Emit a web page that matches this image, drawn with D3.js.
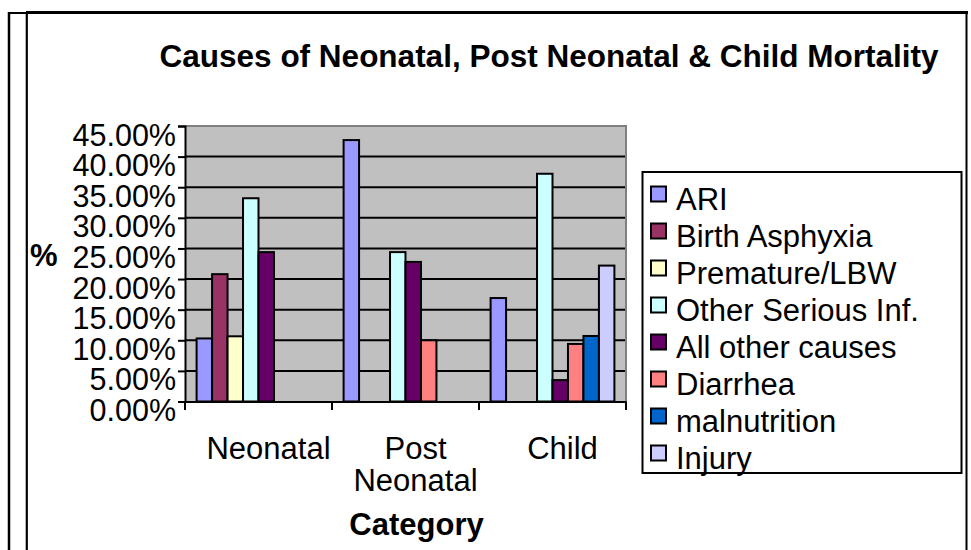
<!DOCTYPE html>
<html>
<head>
<meta charset="utf-8">
<script src="https://cdn.jsdelivr.net/npm/d3@7"></script>
<style>
  html, body { margin: 0; padding: 0; background: #fff; }
  svg { display: block; }
  text { font-family: "Liberation Sans", Arial, sans-serif; fill: #000; }
</style>
</head>
<body>
<svg id="chart" width="971" height="550"></svg>
<script>
// ---- data ----
const categories = ["Neonatal", "Post Neonatal", "Child"];
const seriesNames = ["ARI", "Birth Asphyxia", "Premature/LBW", "Other Serious Inf.",
  "All other causes", "Diarrhea", "malnutrition", "Injury"];
const seriesColors = ["#9999FF", "#993366", "#FFFFCC", "#CCFFFF",
  "#660066", "#FF8080", "#0066CC", "#CCCCFF"];
const ariValues        = [0.103, 0.427, 0.169];
const asphyxiaValues   = [0.208, null, null];
const prematureValues  = [0.1065, null, null];
const otherInfValues   = [0.332, 0.244, 0.372];
const allOtherValues   = [0.244, 0.228, 0.035];
const diarrheaValues   = [null, 0.100, 0.094];
const malnutritionValues = [null, null, 0.107];
const injuryValues     = [null, null, 0.222];
const yTicks = [0, 0.05, 0.10, 0.15, 0.20, 0.25, 0.30, 0.35, 0.40, 0.45];
const titleText = "Causes of Neonatal, Post Neonatal & Child Mortality";
const xTitle = "Category";
const yTitle = "%";

const seriesValues = [ariValues, asphyxiaValues, prematureValues, otherInfValues,
  allOtherValues, diarrheaValues, malnutritionValues, injuryValues];

// ---- layout ----
const svg = d3.select("#chart");
const plot = { left: 185, right: 626, top: 126, bottom: 401.5 };
const FONT = 31;

// frames
svg.append("line").attr("x1", 9).attr("x2", 9).attr("y1", 12).attr("y2", 550)
  .attr("stroke", "#000").attr("stroke-width", 2.5);
svg.append("line").attr("x1", 8).attr("x2", 28).attr("y1", 13).attr("y2", 13)
  .attr("stroke", "#000").attr("stroke-width", 2);
svg.append("line").attr("x1", 26.8).attr("x2", 26.8).attr("y1", 12).attr("y2", 550)
  .attr("stroke", "#000").attr("stroke-width", 2.2);
svg.append("line").attr("x1", 26).attr("x2", 968).attr("y1", 12.5).attr("y2", 12.5)
  .attr("stroke", "#000").attr("stroke-width", 3);
svg.append("line").attr("x1", 966.5).attr("x2", 966.5).attr("y1", 11).attr("y2", 550)
  .attr("stroke", "#000").attr("stroke-width", 2);

// scales
const x0 = d3.scaleBand().domain(categories).range([plot.left, plot.right]).padding(0);
const x1 = d3.scaleBand().domain(seriesNames).range([0, x0.bandwidth()])
  .paddingInner(0).paddingOuter(0.75);
const y = d3.scaleLinear().domain([0, 0.45]).range([plot.bottom, plot.top]);

// plot background
svg.append("rect").attr("x", plot.left).attr("y", plot.top)
  .attr("width", plot.right - plot.left).attr("height", plot.bottom - plot.top)
  .attr("fill", "#C0C0C0");

// gridlines
svg.append("g").selectAll("line").data(yTicks.filter(t => t > 0 && t < 0.45)).join("line")
  .attr("x1", plot.left).attr("x2", plot.right)
  .attr("y1", d => y(d)).attr("y2", d => y(d))
  .attr("stroke", "#000").attr("stroke-width", 2);
// top & right border (gray)
svg.append("line").attr("x1", plot.left).attr("x2", plot.right + 1)
  .attr("y1", y(0.45)).attr("y2", y(0.45)).attr("stroke", "#808080").attr("stroke-width", 2);
svg.append("line").attr("x1", plot.right).attr("x2", plot.right)
  .attr("y1", plot.top).attr("y2", plot.bottom).attr("stroke", "#808080").attr("stroke-width", 2);

// bars
const barData = [];
categories.forEach((c, ci) => {
  seriesNames.forEach((s, si) => {
    const v = seriesValues[si][ci];
    if (v != null) barData.push({ c, s, v, color: seriesColors[si] });
  });
});
svg.append("g").selectAll("rect").data(barData).join("rect")
  .attr("x", d => x0(d.c) + x1(d.s))
  .attr("y", d => y(d.v))
  .attr("width", x1.bandwidth())
  .attr("height", d => y(0) - y(d.v))
  .attr("fill", d => d.color)
  .attr("stroke", "#000").attr("stroke-width", 2);

// y axis
const yAxis = d3.axisLeft(y).tickValues(yTicks).tickFormat(d3.format(".2%"))
  .tickSize(7).tickPadding(2);
const gy = svg.append("g").attr("transform", `translate(${plot.left},0)`).call(yAxis);
gy.select(".domain").attr("stroke", "#000").attr("stroke-width", 2);
gy.selectAll(".tick line").attr("stroke", "#000").attr("stroke-width", 2);
gy.selectAll(".tick text").attr("font-size", 30.5).attr("font-family", "Liberation Sans, Arial, sans-serif")
  .attr("dy", null).attr("y", 19).attr("fill", "#000");

// x axis
const xAxis = d3.axisBottom(x0).tickSize(0).tickFormat("");
const gx = svg.append("g").attr("transform", `translate(0,${plot.bottom})`).call(xAxis);
gx.select(".domain").attr("stroke", "#000").attr("stroke-width", 2);
gx.selectAll(".tick").remove();
// category boundary ticks
const boundaries = categories.map(c => x0(c)).concat([x0(categories[categories.length - 1]) + x0.bandwidth()]);
gx.selectAll("line.bt").data(boundaries).join("line").attr("class", "bt")
  .attr("x1", d => d).attr("x2", d => d).attr("y1", 0).attr("y2", 8.5)
  .attr("stroke", "#000").attr("stroke-width", 2);

// category labels (wrap to fit band)
const labelShift = 10;
categories.forEach(c => {
  const words = c.split(" ");
  const lines = words.length > 1 ? words : [c];
  const t = svg.append("text").attr("text-anchor", "middle").attr("font-size", FONT);
  lines.forEach((ln, i) => {
    t.append("tspan").attr("x", x0(c) + x0.bandwidth() / 2 + labelShift)
      .attr("y", plot.bottom + 57 + i * 32).text(ln);
  });
});

// axis titles
svg.append("text").attr("x", (plot.left + plot.right) / 2 + 11).attr("y", 535)
  .attr("text-anchor", "middle").attr("font-size", FONT).attr("font-weight", "bold").text(xTitle);
svg.append("text").attr("x", 30).attr("y", 266)
  .attr("font-size", FONT).attr("font-weight", "bold").text(yTitle);

// title
svg.append("text").attr("x", 549).attr("y", 67).attr("text-anchor", "middle")
  .attr("font-size", 31.5).attr("font-weight", "bold").text(titleText);

// legend
const lg = svg.append("g");
lg.append("rect").attr("x", 642.5).attr("y", 172).attr("width", 319).attr("height", 301)
  .attr("fill", "#fff").attr("stroke", "#000").attr("stroke-width", 2);
const items = lg.selectAll("g.item").data(seriesNames).join("g").attr("class", "item")
  .attr("transform", (d, i) => `translate(0,${210 + i * 37})`);
items.append("rect").attr("x", 651).attr("y", -23.5).attr("width", 15).attr("height", 15)
  .attr("fill", (d, i) => seriesColors[i]).attr("stroke", "#000").attr("stroke-width", 2);
items.append("text").attr("x", 676).attr("y", 0).attr("font-size", FONT).text(d => d);
</script>
</body>
</html>
